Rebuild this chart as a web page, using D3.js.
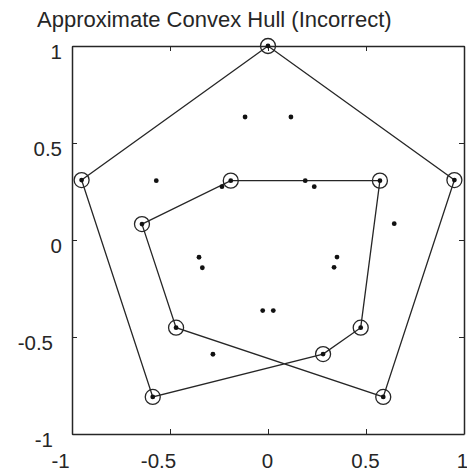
<!DOCTYPE html>
<html>
<head>
<meta charset="utf-8">
<script src="https://cdn.jsdelivr.net/npm/d3@7"></script>
<style>
  body { margin: 0; background: #fff; }
  text { font-family: "Liberation Sans", Arial, sans-serif; fill: #262626; }
</style>
</head>
<body>
<div class="chart"></div>
<script>
// all points (x, y)
const xs = [0, -0.951, 0.951, -0.588, 0.588,
    -0.117, 0.117, -0.570, 0.571, -0.643, 0.644, -0.469, 0.473, -0.281, 0.281,
    -0.190, 0.190, -0.235, 0.236, -0.352, 0.352, -0.335, 0.337, -0.027, 0.027];
const ys = [1, 0.309, 0.309, -0.809, -0.809,
    0.634, 0.634, 0.306, 0.306, 0.082, 0.084, -0.452, -0.452, -0.589, -0.588,
    0.306, 0.306, 0.275, 0.275, -0.089, -0.088, -0.143, -0.141, -0.364, -0.364];

// hull vertices in the order they were joined (indices into xs/ys)
const hullOrder = [0, 1, 3, 14, 12, 8, 15, 9, 11, 4, 2];

const tickValues = [-1, -0.5, 0, 0.5, 1];
const title = "Approximate Convex Hull (Incorrect)";

const W = 467, H = 471;
const margin = ({top: 46, right: 3, bottom: 37, left: 72});
const width = W - margin.left - margin.right;
const height = H - margin.top - margin.bottom;

const svg = d3.select(".chart")
    .append("svg")
    .attr("width", W)
    .attr("height", H);

const g = svg.append("g")
    .attr("transform", `translate(${margin.left},${margin.top})`);

const xScale = d3.scaleLinear().domain([-1, 1]).range([0, width]);
const yScale = d3.scaleLinear().domain([-1, 1]).range([height, 0]);

const fmt = d => d3.format("")(d).replace("−", "-");

// axes with inward ticks, box all round
const axes = [
    {ax: d3.axisBottom(xScale), t: `translate(0,${height})`, lab: true},
    {ax: d3.axisTop(xScale), t: "translate(0,0)", lab: false},
    {ax: d3.axisLeft(yScale), t: "translate(0,0)", lab: true},
    {ax: d3.axisRight(yScale), t: `translate(${width},0)`, lab: false}
];
axes.forEach((a, i) => {
    const grp = g.append("g")
        .attr("transform", a.t)
        .call(a.ax.tickValues(tickValues).tickSizeInner(-5).tickSizeOuter(0).tickFormat(fmt));
    grp.select(".domain").attr("stroke", "#262626").attr("stroke-width", 1.5);
    grp.selectAll(".tick line").attr("stroke", "#262626").attr("stroke-width", 1);
    if (!a.lab) grp.selectAll(".tick text").remove();
    grp.selectAll(".tick text")
        .attr("font-size", 20.5)
        .attr("fill", "#262626");
    if (i === 0) {
        grp.selectAll(".tick text")
            .attr("y", 19)
            .attr("dy", "0.71em")
            .attr("dx", d => d < 0 ? -12 : (d === 1 ? -2 : -1));
    }
    if (i === 2) {
        grp.selectAll(".tick text")
            .attr("x", -10)
            .attr("dy", "0.6em")
            .attr("dx", d => d < 0 ? -9 : 0);
    }
});

// hull polygon
const line = d3.line()
    .x(i => xScale(xs[i]))
    .y(i => yScale(ys[i]))
    .curve(d3.curveLinearClosed);

g.append("path")
    .datum(hullOrder)
    .attr("fill", "none")
    .attr("stroke", "#262626")
    .attr("stroke-width", 1.3)
    .attr("d", line);

// circles on hull vertices
g.selectAll("circle.hull")
    .data(hullOrder)
    .enter()
    .append("circle")
    .attr("class", "hull")
    .attr("cx", i => xScale(xs[i]))
    .attr("cy", i => yScale(ys[i]))
    .attr("r", 7.5)
    .attr("fill", "none")
    .attr("stroke", "#262626")
    .attr("stroke-width", 1.3);

// all points
g.selectAll("circle.pt")
    .data(d3.range(xs.length))
    .enter()
    .append("circle")
    .attr("class", "pt")
    .attr("cx", i => xScale(xs[i]))
    .attr("cy", i => yScale(ys[i]))
    .attr("r", 2.4)
    .attr("fill", "#111");

svg.append("text")
    .attr("x", 37)
    .attr("y", 27)
    .attr("font-size", 22)
    .text(title);
</script>
</body>
</html>
